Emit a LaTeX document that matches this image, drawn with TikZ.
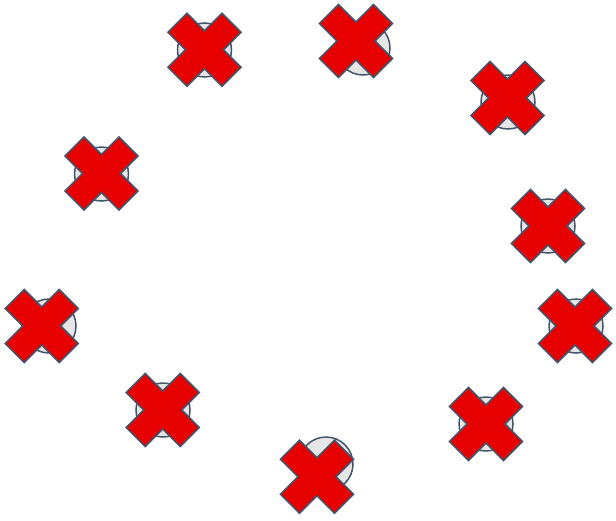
\documentclass[tikz,border=0pt]{standalone}
\usetikzlibrary{shapes.geometric}
\definecolor{edgeblue}{HTML}{44546A}
\definecolor{discgray}{HTML}{E7E6E6}
\definecolor{xred}{HTML}{E60000}
\tikzset{
  disc/.style={circle, draw=edgeblue, fill=discgray, line width=1.5pt, minimum size=54pt, inner sep=0pt},
  xmark/.pic={
    \fill[xred, draw=edgeblue, line width=1.5pt, line join=miter]
      (0,19) -- (17.5,36.5) -- (36.5,17.5) -- (19,0) -- (36.5,-17.5) -- (17.5,-36.5)
      -- (0,-19) -- (-17.5,-36.5) -- (-36.5,-17.5) -- (-19,0) -- (-36.5,17.5) -- (-17.5,36.5) -- cycle;
  }
}
\begin{document}
\begin{tikzpicture}[x=1pt,y=-1pt]
\useasboundingbox (0,0) rectangle (616,520);
% circles
\node[disc] (c1) at (204.5,50) {};
\node[disc] (c2) at (363,48) {};
\node[disc] (c3) at (508,102) {};
\node[disc] (c4) at (101.5,174) {};
\node[disc] (c5) at (548,226) {};
\node[disc] (c6) at (49,326) {};
\node[disc] (c7) at (576,326) {};
\node[disc] (c8) at (163,410) {};
\node[disc] (c9) at (486,424) {};
\node[disc] (c10) at (326,464) {};
% crosses
\pic at (204.5,49.7) {xmark};
\pic at (356,41) {xmark};
\pic at (507.5,98) {xmark};
\pic at (101.5,173.5) {xmark};
\pic at (548,226) {xmark};
\pic at (41.7,326) {xmark};
\pic at (575,326) {xmark};
\pic at (162.7,410) {xmark};
\pic at (486,424) {xmark};
\pic at (317,476.7) {xmark};
\end{tikzpicture}
\end{document}
